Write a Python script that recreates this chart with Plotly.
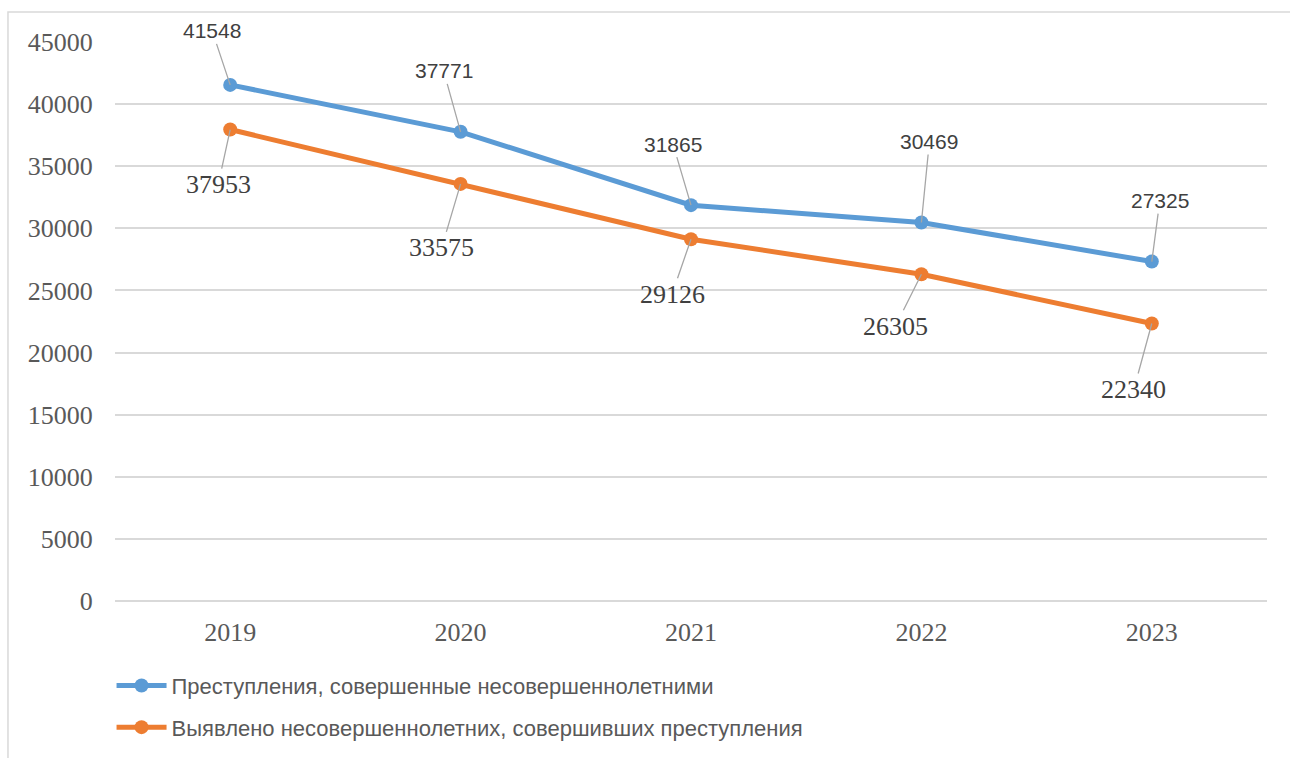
import plotly.graph_objects as go

years = ["2019", "2020", "2021", "2022", "2023"]
crimes = [41548, 37771, 31865, 30469, 27325]
offenders = [37953, 33575, 29126, 26305, 22340]
series_names = [
    "Преступления, совершенные несовершеннолетними",
    "Выявлено несовершеннолетних, совершивших преступления",
]
y_ticks = list(range(0, 45001, 5000))

# label offsets (pixels) for data-label leader lines
crimes_off = [(-18, -54), (-17, -61), (-18, -61), (8, -81), (8, -61)]
offenders_off = [(-12, 55), (-19, 64), (-19, 55), (-26, 52), (-18, 66)]

BLUE = "#5B9BD5"
ORANGE = "#ED7D31"
GRID = "#D9D9D9"
TXT = "#595959"
SERIF = "Liberation Serif, Times New Roman, serif"
SANS = "Liberation Sans, Arial, sans-serif"

fig = go.Figure()
fig.add_trace(go.Scatter(
    x=years, y=crimes, name=series_names[0], mode="lines+markers",
    line=dict(color=BLUE, width=5), marker=dict(color=BLUE, size=14),
    legendgroup="a",
))
fig.add_trace(go.Scatter(
    x=years, y=offenders, name=series_names[1], mode="lines+markers",
    line=dict(color=ORANGE, width=5), marker=dict(color=ORANGE, size=14),
    legendgroup="b",
))

ann = []
for i, (v, (dx, dy)) in enumerate(zip(crimes, crimes_off)):
    ann.append(dict(x=i, y=v, text=str(v), showarrow=True, ax=dx, ay=dy,
                    arrowhead=0, arrowwidth=1.3, arrowcolor="#A6A6A6", standoff=0,
                    font=dict(family=SANS, size=21, color="#404040")))
for i, (v, (dx, dy)) in enumerate(zip(offenders, offenders_off)):
    ann.append(dict(x=i, y=v, text=str(v), showarrow=True, ax=dx, ay=dy,
                    arrowhead=0, arrowwidth=1.3, arrowcolor="#A6A6A6", standoff=0,
                    font=dict(family=SERIF, size=26, color="#404040")))

fig.update_layout(
    width=1290, height=758,
    margin=dict(l=115, r=23, t=42, b=157, autoexpand=False),
    paper_bgcolor="white", plot_bgcolor="white",
    showlegend=True,
    legend=dict(x=-0.003, y=-0.114, xanchor="left", yanchor="top",
                font=dict(family=SANS, size=22, color=TXT),
                tracegroupgap=10, itemwidth=50, bgcolor="rgba(0,0,0,0)"),
    annotations=ann,
    shapes=[dict(type="rect", xref="paper", yref="paper",
                 x0=-0.0929, x1=1.2, y0=-0.6, y1=1.0537,
                 line=dict(color=GRID, width=1.5), fillcolor="rgba(0,0,0,0)", layer="below")],
)
fig.update_xaxes(
    type="category", range=[-0.5, len(years) - 0.5],
    showgrid=False, showline=False, zeroline=False,
    ticks="outside", ticklen=8, tickcolor="rgba(0,0,0,0)",
    tickfont=dict(family=SERIF, size=26, color=TXT),
)
fig.update_yaxes(
    range=[0, 45000], tickvals=y_ticks, ticktext=[str(t) for t in y_ticks],
    showgrid=True, gridcolor=GRID, gridwidth=1.5,
    zeroline=True, zerolinecolor=GRID, zerolinewidth=1.5, showline=False,
    ticks="outside", ticklen=16, tickcolor="rgba(0,0,0,0)",
    tickfont=dict(family=SERIF, size=26, color=TXT),
)

fig.write_html("out.html", config={"displayModeBar": False},
               post_script="document.body.style.margin='0';document.body.style.overflow='hidden';")
